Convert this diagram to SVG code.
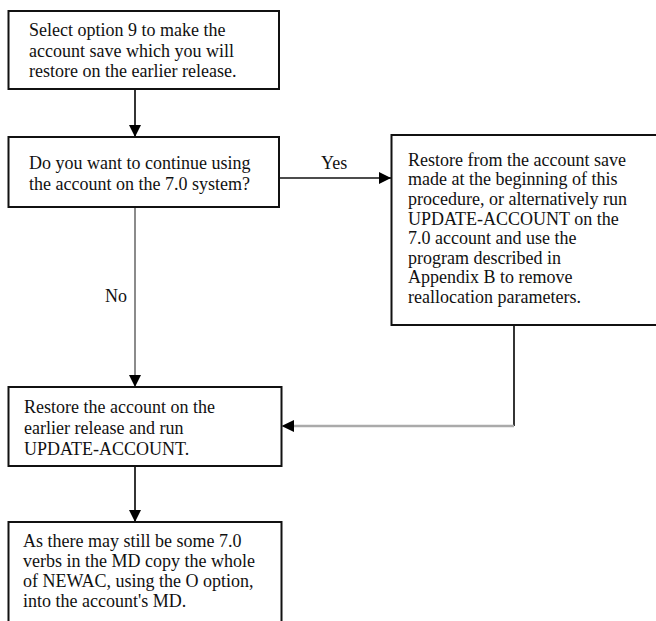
<svg xmlns="http://www.w3.org/2000/svg" width="656" height="621" viewBox="0 0 656 621">
<style>
  .box { fill: #fff; stroke: #111; stroke-width: 2; }
  .t { font-family: "Liberation Serif", "Times New Roman", serif; font-size: 18px; fill: #111; }
  .c { fill: none; stroke: #111; stroke-width: 1.7; }
  .g { fill: none; stroke: #777; stroke-width: 1.7; }
  .lg { fill: none; stroke: #aaa; stroke-width: 2.5; }
</style>
<defs>
  <marker id="ah" viewBox="0 0 12 12" refX="12" refY="6" markerWidth="12" markerHeight="12" markerUnits="userSpaceOnUse" orient="auto">
    <path d="M0,0 L12,6 L0,12 Z" fill="#000"/>
  </marker>
</defs>
<rect width="656" height="621" fill="#fff"/>
<g id="connectors">
  <line class="c" x1="135" y1="89" x2="135" y2="137" marker-end="url(#ah)"/>
  <line class="c" x1="279" y1="178" x2="391" y2="178" marker-end="url(#ah)"/>
  <line class="g" x1="135" y1="207" x2="135" y2="387" marker-end="url(#ah)"/>
  <polyline class="c" points="514,325 514,426"/>
  <line class="lg" x1="514" y1="426" x2="294" y2="426"/>
  <path d="M294,420 L281.5,426 L294,432 Z" fill="#000"/>
  <line class="c" x1="135" y1="466" x2="135" y2="522" marker-end="url(#ah)"/>
  <text class="t" x="321" y="169">Yes</text>
  <text class="t" x="105" y="302">No</text>
</g>
<g id="n1">
  <rect class="box" x="8.5" y="11" width="270.5" height="78"/>
  <text class="t" x="29" y="36">Select option 9 to make the</text>
  <text class="t" x="29" y="56.5">account save which you will</text>
  <text class="t" x="29" y="77">restore on the earlier release.</text>
</g>
<g id="n2">
  <rect class="box" x="8.5" y="137" width="270.5" height="70"/>
  <text class="t" x="29" y="168.5">Do you want to continue using</text>
  <text class="t" x="29" y="189.5">the account on the 7.0 system?</text>
</g>
<g id="n3">
  <rect class="box" x="391.5" y="135" width="280" height="190"/>
  <text class="t" x="408" y="165.7">Restore from the account save</text>
  <text class="t" x="408" y="185.3">made at the beginning of this</text>
  <text class="t" x="408" y="204.9">procedure, or alternatively run</text>
  <text class="t" x="408" y="224.5">UPDATE-ACCOUNT on the</text>
  <text class="t" x="408" y="244.1">7.0 account and use the</text>
  <text class="t" x="408" y="263.7">program described in</text>
  <text class="t" x="408" y="283.3">Appendix B to remove</text>
  <text class="t" x="408" y="302.9">reallocation parameters.</text>
</g>
<g id="n4">
  <rect class="box" x="8.5" y="387" width="273" height="79"/>
  <text class="t" x="24" y="413">Restore the account on the</text>
  <text class="t" x="24" y="434">earlier release and run</text>
  <text class="t" x="24" y="455">UPDATE-ACCOUNT.</text>
</g>
<g id="n5">
  <rect class="box" x="8.5" y="522" width="273" height="110"/>
  <text class="t" x="23" y="546.7">As there may still be some 7.0</text>
  <text class="t" x="23" y="566.7">verbs in the MD copy the whole</text>
  <text class="t" x="23" y="586.7">of NEWAC, using the O option,</text>
  <text class="t" x="23" y="606.7">into the account's MD.</text>
</g>
</svg>
